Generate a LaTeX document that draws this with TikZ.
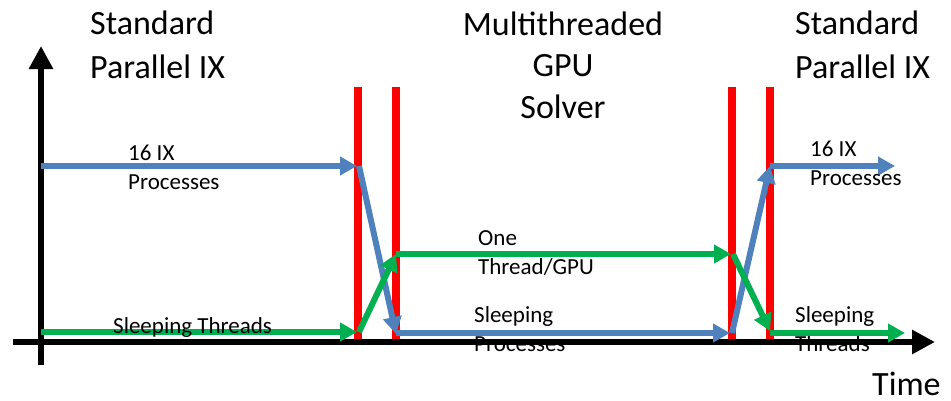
\documentclass[tikz,border=0pt]{standalone}
\usepackage{fontspec}
\setmainfont{Carlito}
\usetikzlibrary{arrows.meta}
\definecolor{obl}{HTML}{4F81BD}
\definecolor{ogr}{HTML}{00B050}
\begin{document}
\begin{tikzpicture}[x=1pt,y=-1pt,
  title/.style={font=\fontsize{34}{44}\selectfont, align=left, inner sep=0pt, anchor=base west},
  axislbl/.style={font=\fontsize{34}{40}\selectfont, inner sep=0pt, anchor=base west},
  lbl/.style={font=\fontsize{23}{28.5}\selectfont, align=left, inner sep=0pt, anchor=base west},
  barr/.style={draw=obl, line width=6pt, -{Triangle[length=17pt,width=18pt]}},
  garr/.style={draw=ogr, line width=6pt, -{Triangle[length=17pt,width=18pt]}},
  axisline/.style={draw=black, line width=6pt, -{Triangle[length=23pt,width=23pt]}},
  sepline/.style={draw=red, line width=7.5pt}]
\useasboundingbox (0,0) rectangle (951,400);
% titles (base anchor = baseline of last line)
\node[title] (tl) at (90,78) {Standard\\Parallel IX};
\node[title, font=\fontsize{34}{41.5}\selectfont, align=center, anchor=base] (tm) at (563,118) {Multithreaded\\GPU\\Solver};
\node[title] (tr) at (795,78) {Standard\\Parallel IX};
\node[axislbl] (time) at (872,395) {Time};
% separators
\foreach \n/\x in {1/358,2/396,3/732,4/770}{
  \coordinate (s\n t) at (\x,87);
  \coordinate (s\n b) at (\x,343);
  \draw[sepline] (s\n t) -- (s\n b);
}
% labels partly hidden
\node[lbl] (sp) at (474,351) {Sleeping\\Processes};
\node[lbl] (st) at (795,351) {Sleeping\\Threads};
% axes
\coordinate (o1) at (41,365);
\coordinate (o2) at (41,46);
\coordinate (x1) at (13,342);
\coordinate (x2) at (935,342);
\draw[axisline] (o1) -- (o2);
\draw[axisline] (x1) -- (x2);
% coordinates for flows
\coordinate (b0) at (41,166);
\coordinate (b1) at (357,166);
\coordinate (b2) at (396,334);
\coordinate (b3) at (396,333);
\coordinate (b4) at (730,333);
\coordinate (b5) at (732,333);
\coordinate (b6) at (770,166);
\coordinate (b7) at (895,166);
\coordinate (g0) at (41,332);
\coordinate (g1) at (357,332);
\coordinate (g2) at (396,254);
\coordinate (g3) at (731,254);
\coordinate (g4) at (770,331);
\coordinate (g5) at (905,333);
\coordinate (b1s) at (359,166);
\coordinate (g1s) at (359,332);
\coordinate (g3s) at (733,254);
\coordinate (g4s) at (770,333);
% blue flow
\draw[barr] (b0) -- (b1);
\draw[barr] (b1s) -- (b2);
\draw[barr] (b3) -- (b4);
\draw[barr] (b5) -- (b6);
\draw[barr] (b6) -- (b7);
% green flow
\draw[garr] (g0) -- (g1);
\draw[garr] (g1s) -- (g2);
\draw[garr] (g2) -- (g3);
\draw[garr] (g3s) -- (g4);
\draw[garr] (g4s) -- (g5);
% labels on top
\node[lbl] (p1) at (128,189) {16 IX\\Processes};
\node[lbl] (th) at (113,333) {Sleeping Threads};
\node[lbl] (og) at (478,274) {One\\Thread/GPU};
\node[lbl] (p2) at (810,185) {16 IX\\Processes};
\end{tikzpicture}
\end{document}
